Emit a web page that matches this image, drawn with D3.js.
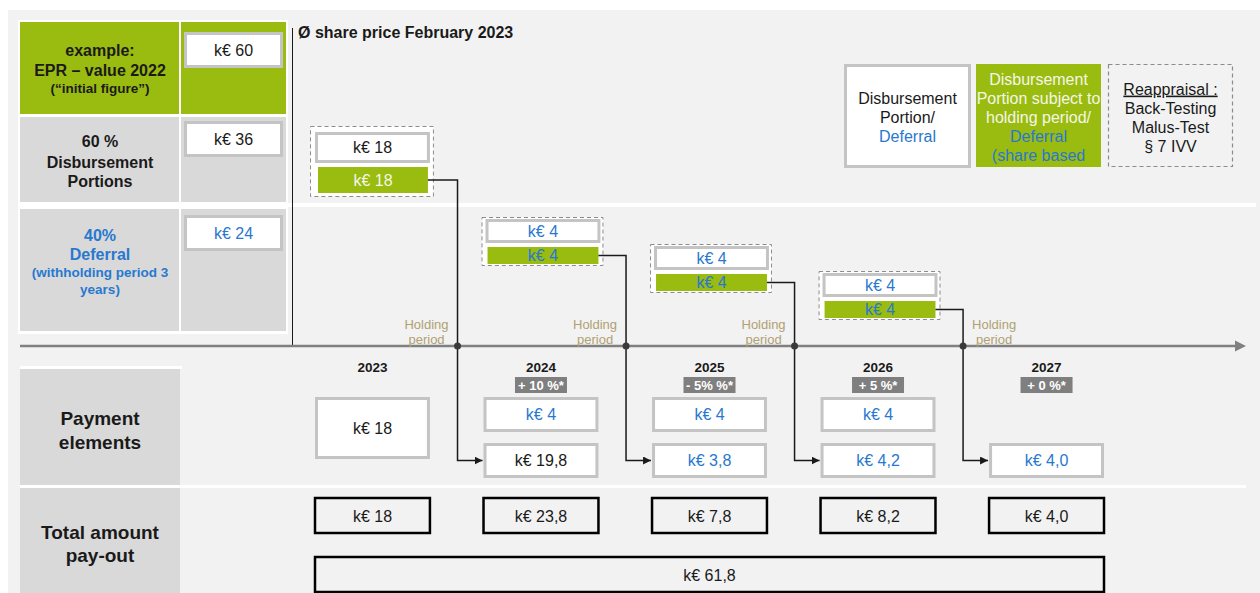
<!DOCTYPE html>
<html>
<head>
<meta charset="utf-8">
<script src="https://cdn.jsdelivr.net/npm/d3@7"></script>
<style>
  html, body { margin: 0; padding: 0; background: #ffffff; }
  svg { display: block; font-family: "Liberation Sans", Arial, sans-serif; }
</style>
</head>
<body>
<div id="chart"></div>
<script>
// ---- data ----
const years = ['2023', '2024', '2025', '2026', '2027'];
const changeLabels = [null, '+ 10 %*', '- 5% %*', '+ 5 %*', '+ 0 %*'];

// share based portions held back, one dashed group per year 2023..2026
const holdWhite = ['k€ 18', 'k€ 4', 'k€ 4', 'k€ 4'];
const holdGreen = ['k€ 18', 'k€ 4', 'k€ 4', 'k€ 4'];
const holdKind = ['disb', 'def', 'def', 'def'];

// payment elements per year
const payUpper = ['k€ 18', 'k€ 4', 'k€ 4', 'k€ 4', null];
const payUpperKind = ['disb', 'def', 'def', 'def', null];
const payLower = [null, 'k€ 19,8', 'k€ 3,8', 'k€ 4,2', 'k€ 4,0'];
const payLowerKind = [null, 'disb', 'def', 'def', 'def'];

const totals = ['k€ 18', 'k€ 23,8', 'k€ 7,8', 'k€ 8,2', 'k€ 4,0'];
const grandTotal = 'k€ 61,8';

const leftLabels = [
  ['example:', 'EPR – value 2022', '(“initial figure”)'],
  ['60 %', 'Disbursement', 'Portions'],
  ['40%', 'Deferral', '(withholding period 3', 'years)']
];
const leftValues = ['k€ 60', 'k€ 36', 'k€ 24'];
const leftKind = ['disb', 'disb', 'def'];

const legendWhite = [['Disbursement', 'disb'], ['Portion/', 'disb'], ['Deferral', 'def']];
const legendGreen = [['Disbursement', 'light'], ['Portion subject to', 'light'], ['holding period/', 'light'],
  ['Deferral', 'def'], ['(share based', 'def']];
const legendTest = ['Reappraisal :', 'Back-Testing', 'Malus-Test', '§ 7 IVV'];

// ---- styles ----
const GREEN = '#9abb0f';
const CELL = '#d9d9d9';
const BG = '#f2f2f2';
const BORDER = '#c4c4c4';
const BLUE = '#2878d0';
const HOLD = '#b0a173';
const INK = '#1a1a1a';
const kindColour = { disb: INK, def: BLUE, light: '#f4f7e8' };

const W = 1260, H = 593;
const axisY = 346;

const svg = d3.select('#chart').append('svg')
  .attr('width', W).attr('height', H)
  .attr('viewBox', `0 0 ${W} ${H}`);

const defs = svg.append('defs');
defs.append('marker')
  .attr('id', 'arr')
  .attr('viewBox', '0 0 10 10')
  .attr('refX', 10).attr('refY', 5)
  .attr('markerWidth', 8).attr('markerHeight', 8)
  .attr('markerUnits', 'userSpaceOnUse')
  .attr('orient', 'auto')
  .append('path').attr('d', 'M0,0 L10,5 L0,10 Z').attr('fill', INK);

// background panel
svg.append('rect').attr('x', 8).attr('y', 10).attr('width', W - 8).attr('height', H - 10).attr('fill', BG);

// year columns
const x = d3.scaleBand().domain(years).range([315, 1104]).paddingInner(0.318);
const bw = x.bandwidth();
const cx = d => x(d) + bw / 2;
// holding-group vertical steps (2024..2026)
const groupTop = d3.scaleLinear().domain([1, 3]).range([219, 273]);

// ---- white separators ----
svg.append('rect').attr('x', 18).attr('y', 20).attr('width', 270).attr('height', 314).attr('fill', '#fff');
svg.append('rect').attr('x', 20).attr('y', 203).attr('width', 1236).attr('height', 4).attr('fill', '#fff');
svg.append('rect').attr('x', 20).attr('y', 366).attr('width', 162).attr('height', 3).attr('fill', '#fff');
svg.append('rect').attr('x', 20).attr('y', 485).attr('width', 1226).attr('height', 3).attr('fill', '#fff');

// ---- left table ----
const rowBands = [[22, 114], [117, 202], [209, 331]];
const rowFill = [GREEN, CELL, CELL];
const rowLineY = [[50, 70, 88], [141, 162, 181], [235, 254, 272, 289]];
const rowLineSize = [[16, 16, 13.5], [16, 16, 16], [16, 16, 13.5, 13.5]];
const valueBoxY = [32, 121, 215];

const rows = svg.append('g').selectAll('g').data(leftLabels).join('g');
rows.append('rect').attr('x', 20).attr('y', (d, i) => rowBands[i][0])
  .attr('width', 159).attr('height', (d, i) => rowBands[i][1] - rowBands[i][0])
  .attr('fill', (d, i) => rowFill[i]);
rows.append('rect').attr('x', 181).attr('y', (d, i) => rowBands[i][0])
  .attr('width', 105).attr('height', (d, i) => rowBands[i][1] - rowBands[i][0])
  .attr('fill', (d, i) => rowFill[i]);
rows.each(function (lines, i) {
  d3.select(this).selectAll('text').data(lines).join('text')
    .attr('x', 100).attr('y', (d, j) => rowLineY[i][j]).attr('dy', '0.35em')
    .attr('text-anchor', 'middle').attr('font-weight', 'bold')
    .attr('font-size', (d, j) => rowLineSize[i][j])
    .attr('fill', leftKind[i] === 'def' ? BLUE : INK)
    .text(d => d);
});
rows.append('rect').attr('x', 185.5).attr('y', (d, i) => valueBoxY[i] + 1.5)
  .attr('width', 96).attr('height', 33)
  .attr('fill', '#fff').attr('stroke', BORDER).attr('stroke-width', 3);
rows.append('text').attr('x', 233.5).attr('y', (d, i) => valueBoxY[i] + 18).attr('dy', '0.35em')
  .attr('text-anchor', 'middle').attr('font-size', 16)
  .attr('fill', (d, i) => kindColour[leftKind[i]])
  .text((d, i) => leftValues[i]);

// title + vertical divider
svg.append('line').attr('x1', 292.5).attr('x2', 292.5).attr('y1', 28).attr('y2', axisY)
  .attr('stroke', INK).attr('stroke-width', 1);
svg.append('text').attr('x', 298).attr('y', 38).attr('font-weight', 'bold').attr('font-size', 16)
  .attr('fill', INK).text('Ø share price February 2023');

// ---- legend ----
const lg = svg.append('g');
lg.append('rect').attr('x', 845.5).attr('y', 65.5).attr('width', 124).attr('height', 101)
  .attr('fill', '#fff').attr('stroke', BORDER).attr('stroke-width', 3);
lg.selectAll('text.lw').data(legendWhite).join('text').attr('class', 'lw')
  .attr('x', 907.5).attr('y', (d, i) => 98 + i * 19).attr('dy', '0.35em')
  .attr('text-anchor', 'middle').attr('font-size', 16)
  .attr('fill', d => kindColour[d[1]]).text(d => d[0]);
lg.append('rect').attr('x', 976).attr('y', 64).attr('width', 125).attr('height', 103).attr('fill', GREEN);
lg.selectAll('text.lg').data(legendGreen).join('text').attr('class', 'lg')
  .attr('x', 1038.5).attr('y', (d, i) => 79 + i * 19).attr('dy', '0.35em')
  .attr('text-anchor', 'middle').attr('font-size', 16)
  .attr('fill', d => kindColour[d[1]]).text(d => d[0]);
lg.append('rect').attr('x', 1108.5).attr('y', 64.5).attr('width', 124).attr('height', 102)
  .attr('fill', 'none').attr('stroke', '#8c8c8c').attr('stroke-width', 1.2).attr('stroke-dasharray', '4,3');
lg.selectAll('text.lt').data(legendTest).join('text').attr('class', 'lt')
  .attr('x', 1170.5).attr('y', (d, i) => 89 + i * 19).attr('dy', '0.35em')
  .attr('text-anchor', 'middle').attr('font-size', 16).attr('fill', INK)
  .attr('text-decoration', (d, i) => i === 0 ? 'underline' : null)
  .text(d => d);

// ---- time axis ----
svg.append('line').attr('x1', 20).attr('x2', 1237).attr('y1', axisY).attr('y2', axisY)
  .attr('stroke', '#808080').attr('stroke-width', 2.5);
svg.append('path').attr('d', `M1235,${axisY - 5.5} L1246,${axisY} L1235,${axisY + 5.5} Z`).attr('fill', '#808080');

// ---- holding groups ----
const groups = holdWhite.map((w, i) => {
  const yr = years[i];
  if (i === 0) {
    return { i, yr, w, g: holdGreen[i], kind: holdKind[i],
      dash: [x(yr) - 5, 126, bw + 8, 70],
      white: [x(yr), 132, bw, 31], green: [x(yr) + 3, 167, bw - 5, 26] };
  }
  const t = groupTop(i);
  return { i, yr, w, g: holdGreen[i], kind: holdKind[i],
    dash: [x(yr) - 2, t - 2, bw + 6, 48],
    white: [x(yr) + 2, t, bw, 24], green: [x(yr) + 4, t + 28, bw - 4, 17] };
});

const hg = svg.append('g').selectAll('g').data(groups).join('g');
hg.append('rect').attr('x', d => d.dash[0] + 0.5).attr('y', d => d.dash[1] + 0.5)
  .attr('width', d => d.dash[2]).attr('height', d => d.dash[3])
  .attr('fill', '#fff').attr('stroke', '#8c8c8c').attr('stroke-width', 1).attr('stroke-dasharray', '4,3');
hg.append('rect').attr('x', d => d.white[0] + 1.5).attr('y', d => d.white[1] + 1.5)
  .attr('width', d => d.white[2] - 3).attr('height', d => d.white[3] - 3)
  .attr('fill', '#fff').attr('stroke', BORDER).attr('stroke-width', 3);
hg.append('rect').attr('x', d => d.green[0]).attr('y', d => d.green[1])
  .attr('width', d => d.green[2]).attr('height', d => d.green[3]).attr('fill', GREEN);
hg.append('text').attr('x', d => d.white[0] + d.white[2] / 2).attr('y', d => d.white[1] + d.white[3] / 2)
  .attr('dy', '0.35em').attr('text-anchor', 'middle').attr('font-size', 16)
  .attr('fill', d => kindColour[d.kind]).text(d => d.w);
hg.append('text').attr('x', d => d.green[0] + d.green[2] / 2).attr('y', d => d.green[1] + d.green[3] / 2)
  .attr('dy', '0.35em').attr('text-anchor', 'middle').attr('font-size', 16)
  .attr('fill', d => d.kind === 'disb' ? kindColour.light : BLUE).text(d => d.g);

// connectors to next year's payment
const lowerY = 443, boxH = 35;
const dotX = d => x(years[d.i + 1]) - 26;
svg.append('g').selectAll('path').data(groups).join('path')
  .attr('d', d => {
    const sy = d.green[1] + d.green[3] / 2;
    const ty = lowerY + boxH / 2;
    return `M${d.green[0] + d.green[2]},${sy} H${dotX(d)} V${ty} H${x(years[d.i + 1]) - 1}`;
  })
  .attr('fill', 'none').attr('stroke', INK).attr('stroke-width', 1.5)
  .attr('marker-end', 'url(#arr)');
svg.append('g').selectAll('circle').data(groups).join('circle')
  .attr('cx', dotX).attr('cy', axisY).attr('r', 3.5).attr('fill', '#3a3a3a');

// holding period labels
const hp = svg.append('g').selectAll('g').data(groups).join('g')
  .attr('transform', d => `translate(${d.i < 3 ? dotX(d) - 31 : dotX(d) + 31},0)`);
hp.selectAll('text').data(['Holding', 'period']).join('text')
  .attr('y', (d, j) => 324 + j * 15).attr('dy', '0.35em')
  .attr('text-anchor', 'middle').attr('font-size', 13).attr('fill', HOLD).text(d => d);

// ---- year labels and change badges ----
const yg = svg.append('g').selectAll('g').data(years).join('g');
yg.append('text').attr('x', cx).attr('y', 367).attr('dy', '0.35em')
  .attr('text-anchor', 'middle').attr('font-weight', 'bold').attr('font-size', 13.5)
  .attr('fill', INK).text(d => d);
const badges = yg.filter((d, i) => changeLabels[i] !== null);
badges.append('rect').attr('x', d => cx(d) - 26).attr('y', 377).attr('width', 52).attr('height', 16)
  .attr('fill', '#7f7f7f');
badges.append('text').attr('x', cx).attr('y', 385).attr('dy', '0.35em')
  .attr('text-anchor', 'middle').attr('font-weight', 'bold').attr('font-size', 13)
  .attr('fill', '#fff').text(d => changeLabels[years.indexOf(d)]);

// ---- payment element boxes ----
const payBoxes = [];
years.forEach((yr, i) => {
  if (i === 0) payBoxes.push({ yr, t: payUpper[i], kind: payUpperKind[i], y: 397, h: 62 });
  else {
    if (payUpper[i]) payBoxes.push({ yr, t: payUpper[i], kind: payUpperKind[i], y: 397, h: boxH });
    if (payLower[i]) payBoxes.push({ yr, t: payLower[i], kind: payLowerKind[i], y: lowerY, h: boxH });
  }
});
const pb = svg.append('g').selectAll('g').data(payBoxes).join('g');
pb.append('rect').attr('x', d => x(d.yr) + 1.5).attr('y', d => d.y + 1.5)
  .attr('width', bw - 3).attr('height', d => d.h - 3)
  .attr('fill', '#fff').attr('stroke', BORDER).attr('stroke-width', 3);
pb.append('text').attr('x', d => cx(d.yr)).attr('y', d => d.y + d.h / 2).attr('dy', '0.35em')
  .attr('text-anchor', 'middle').attr('font-size', 16)
  .attr('fill', d => kindColour[d.kind]).text(d => d.t);

// ---- bottom row labels ----
const bottomCells = [
  { lines: ['Payment', 'elements'], y: 369, h: 116, ly: [418, 442] },
  { lines: ['Total amount', 'pay-out'], y: 488, h: 105, ly: [532, 555] }
];
const bc = svg.append('g').selectAll('g').data(bottomCells).join('g');
bc.append('rect').attr('x', 20).attr('y', d => d.y).attr('width', 160).attr('height', d => d.h).attr('fill', CELL);
bc.each(function (c) {
  d3.select(this).selectAll('text').data(c.lines).join('text')
    .attr('x', 100).attr('y', (d, j) => c.ly[j]).attr('dy', '0.35em')
    .attr('text-anchor', 'middle').attr('font-weight', 'bold').attr('font-size', 19)
    .attr('fill', INK).text(d => d);
});

// ---- totals ----
const tg = svg.append('g').selectAll('g').data(years).join('g');
tg.append('rect').attr('x', d => x(d)).attr('y', 498).attr('width', bw).attr('height', 35)
  .attr('fill', 'none').attr('stroke', '#000').attr('stroke-width', 2.5);
tg.append('text').attr('x', cx).attr('y', 516).attr('dy', '0.35em')
  .attr('text-anchor', 'middle').attr('font-size', 16)
  .attr('fill', INK).text((d, i) => totals[i]);
svg.append('rect').attr('x', x(years[0])).attr('y', 557)
  .attr('width', x(years[years.length - 1]) + bw - x(years[0])).attr('height', 35)
  .attr('fill', 'none').attr('stroke', '#000').attr('stroke-width', 2.5);
svg.append('text').attr('x', (x(years[0]) + x(years[years.length - 1]) + bw) / 2).attr('y', 575)
  .attr('dy', '0.35em').attr('text-anchor', 'middle').attr('font-size', 16)
  .attr('fill', INK).text(grandTotal);
</script>
</body>
</html>
